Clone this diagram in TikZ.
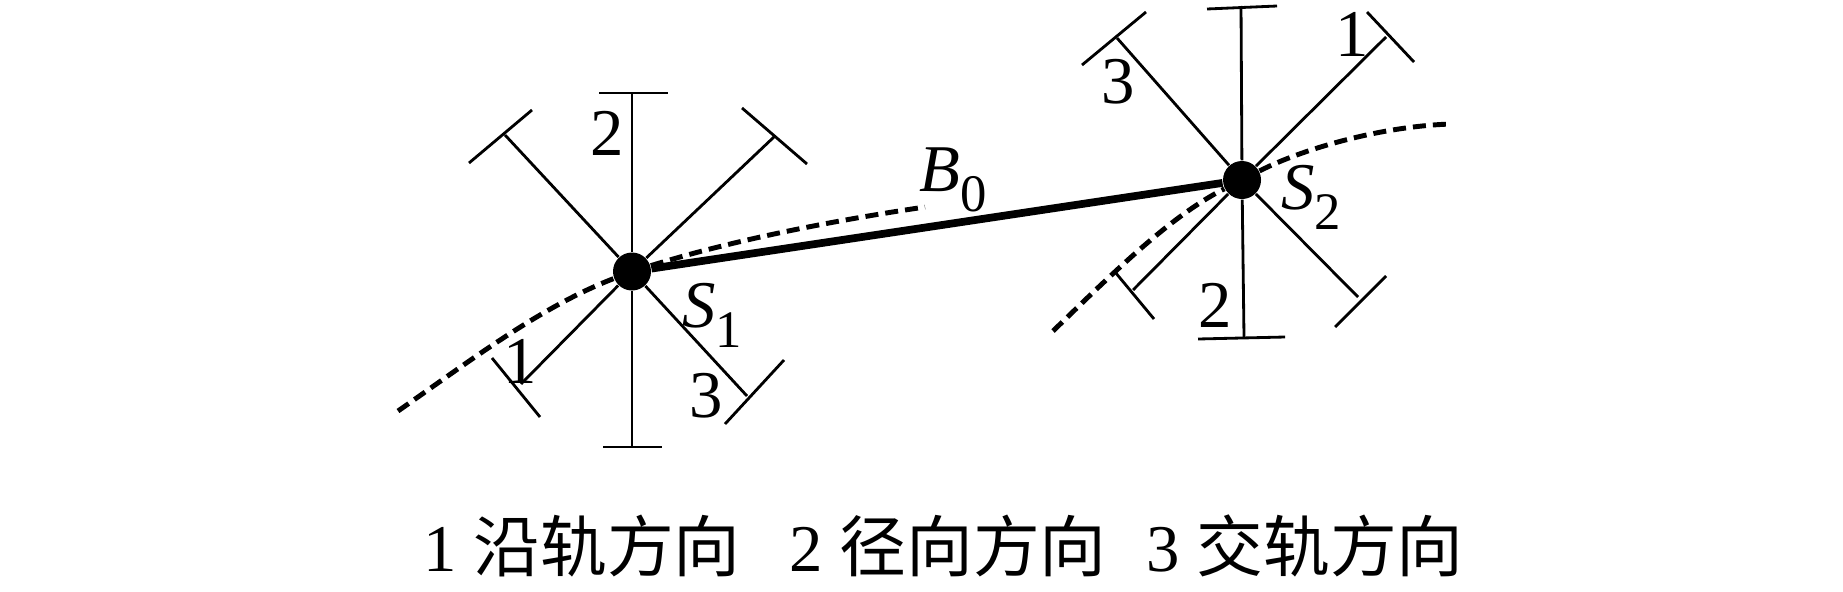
\documentclass[tikz,border=0pt]{standalone}
\usepackage{fontspec}
\setmainfont{Liberation Serif}
\newfontfamily\cjk{Noto Sans CJK SC}
\newcommand{\subbed}[2]{\textit{#1}\raisebox{-0.3em}{\fontsize{15}{15}\selectfont #2}}
\tikzset{
  arm/.style={line width=0.8pt},
  track/.style={line width=1.4pt,dash pattern=on 3.7pt off 2.0pt},
  baseline/.style={line width=2.2pt},
  station/.style={circle,fill=black,inner sep=0pt,minimum size=0.38cm},
  lbl/.style={font=\fontsize{19}{19}\selectfont,inner sep=0pt},
}
\begin{document}
\begin{tikzpicture}
\useasboundingbox (0,0) rectangle (18.43,5.91);

% Stations
\node[station] (s1) at (6.32,3.195) {};
\node[station] (s2) at (12.42,4.11) {};

% Arm ends, station 1
\coordinate (s1t) at (6.32,4.98);
\coordinate (s1b) at (6.32,1.44);
\coordinate (s1nw) at (5.05,4.56);
\coordinate (s1ne) at (7.75,4.55);
\coordinate (s1sw) at (5.21,2.07);
\coordinate (s1se) at (7.47,1.95);

% Arm ends, station 2
\coordinate (s2t) at (12.41,5.85);
\coordinate (s2b) at (12.44,2.53);
\coordinate (s2nw) at (11.17,5.53);
\coordinate (s2ne) at (13.86,5.54);
\coordinate (s2sw) at (11.33,3.01);
\coordinate (s2se) at (13.58,2.94);

% Free ends of the tracks
\coordinate (t1a) at (3.98,1.80);
\coordinate (t1b) at (9.25,3.84);
\coordinate (t2a) at (10.53,2.60);
\coordinate (t2b) at (14.52,4.67);

% Arms
\draw[arm] (s1) -- (s1t);
\draw[arm] (s1) -- (s1b);
\draw[arm] (s1) -- (s1nw);
\draw[arm] (s1) -- (s1ne);
\draw[arm] (s1) -- (s1sw);
\draw[arm] (s1) -- (s1se);
\draw[arm] (s2) -- (s2t);
\draw[arm] (s2) -- (s2b);
\draw[arm] (s2) -- (s2nw);
\draw[arm] (s2) -- (s2ne);
\draw[arm] (s2) -- (s2sw);
\draw[arm] (s2) -- (s2se);

% Caps, station 1
\draw[arm] (5.99,4.98) -- (6.68,4.98);
\draw[arm] (6.03,1.44) -- (6.62,1.44);
\draw[arm] (4.69,4.28) -- (5.32,4.81);
\draw[arm] (7.42,4.83) -- (8.07,4.27);
\draw[arm] (4.92,2.33) -- (5.40,1.74);
\draw[arm] (7.25,1.67) -- (7.84,2.31);

% Caps, station 2
\draw[arm] (12.07,5.82) -- (12.77,5.85);
\draw[arm] (11.98,2.52) -- (12.85,2.54);
\draw[arm] (10.82,5.26) -- (11.46,5.79);
\draw[arm] (13.67,5.79) -- (14.14,5.29);
\draw[arm] (11.15,3.19) -- (11.54,2.72);
\draw[arm] (13.35,2.64) -- (13.86,3.15);

% Tracks
\draw[track] (t1a) .. controls (4.70,2.30) and (5.40,2.84) .. (s1);
\draw[track] (s1) .. controls (7.30,3.50) and (8.30,3.70) .. (t1b);
\draw[track] (t2a) .. controls (11.10,3.15) and (11.70,3.75) .. (s2);
\draw[track] (s2) .. controls (13.00,4.41) and (13.80,4.65) .. (t2b);

% Baseline
\draw[baseline] (s1) -- (s2);

% Labels
\node[lbl] (n2a) at (6.07,4.58) {2};
\node[lbl] (n1a) at (5.20,2.30) {1};
\node[lbl] (n3a) at (7.06,1.95) {3};
\node[lbl] (ns1) at (7.12,2.76) {\subbed{S}{1}};
\node[lbl] (nb0) at (9.53,4.11) {\subbed{B}{0}};
\node[lbl] (ns2) at (13.11,3.94) {\subbed{S}{2}};
\node[lbl] (n3b) at (11.18,5.09) {3};
\node[lbl] (n1b) at (13.52,5.57) {1};
\node[lbl] (n2b) at (12.15,2.86) {2};

% Legend
\node[lbl] (leg1) at (5.82,0.45) {1 {\cjk 沿轨方向}};
\node[lbl] (leg2) at (9.48,0.45) {2 {\cjk 径向方向}};
\node[lbl] (leg3) at (13.05,0.45) {3 {\cjk 交轨方向}};
\end{tikzpicture}
\end{document}
